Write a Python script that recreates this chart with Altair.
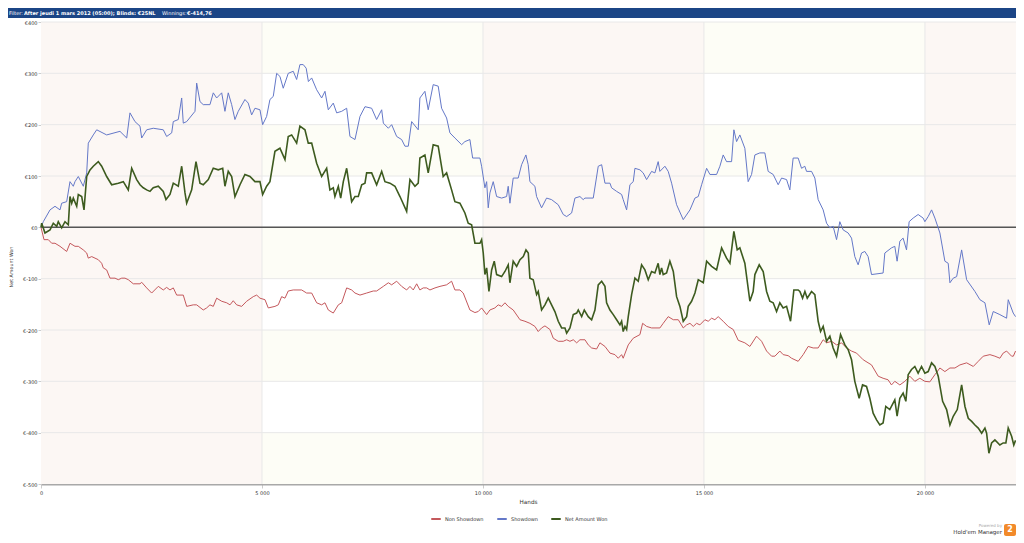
import altair as alt
import pandas as pd

# ---------------- data ----------------
sd_hands = [0, 52, 204, 317, 430, 468, 581, 656, 731, 769, 844, 957, 1034, 1070, 1183, 1260, 1486, 1787, 1939, 2013,
            2126, 2240, 2278, 2391, 2540, 2767, 2843, 2957, 2993, 3106, 3183, 3219, 3296, 3484, 3522, 3597, 3671, 3823,
            3898, 3974, 4088, 4162, 4237, 4314, 4388, 4463, 4614, 4689, 4766, 4841, 4954, 5015, 5105, 5180, 5255, 5332,
            5406, 5481, 5594, 5707, 5784, 5858, 5933, 6000, 6050, 6124, 6237, 6350, 6425, 6500, 6613, 6690, 6803, 6916,
            6990, 7104, 7217, 7330, 7481, 7594, 7708, 7746, 7859, 7934, 8047, 8160, 8235, 8310, 8386, 8535, 8573, 8686,
            8761, 8874, 8987, 9064, 9177, 9252, 9365, 9517, 9591, 9704, 9766, 9931, 9969, 10044, 10083, 10119, 10157,
            10232, 10309, 10422, 10535, 10571, 10610, 10684, 10797, 10874, 10971, 11023, 11062, 11175, 11213, 11326,
            11439, 11552, 11703, 11816, 11893, 12006, 12081, 12194, 12268, 12307, 12495, 12608, 12685, 12760, 12873,
            12910, 13024, 13137, 13173, 13250, 13325, 13400, 13438, 13551, 13625, 13702, 13815, 13890, 13964, 14003,
            14116, 14191, 14268, 14381, 14531, 14683, 14796, 14871, 14947, 15060, 15135, 15286, 15360, 15435, 15511,
            15625, 15677, 15738, 15812, 15925, 16000, 16077, 16152, 16265, 16378, 16453, 16566, 16679, 16756, 16869,
            16943, 17018, 17131, 17208, 17282, 17321, 17434, 17509, 17584, 17697, 17774, 17849, 17923, 18000, 18074,
            18149, 18262, 18339, 18413, 18488, 18565, 18640, 18714, 18791, 19053, 19092, 19243, 19318, 19370, 19432,
            19506, 19583, 19642, 19733, 19846, 19959, 19998, 20073, 20150, 20225, 20338, 20451, 20526, 20565, 20640,
            20717, 20830, 20943, 21131, 21244, 21357, 21454, 21545, 21695, 21847, 21884, 21997, 22050]
sd_vals = [0, 11, 34, 41, 34, 47, 50, 89, 80, 89, 99, 80, 106, 164, 180, 190, 180, 187, 174, 223,
           206, 197, 174, 190, 193, 190, 177, 184, 206, 210, 252, 203, 206, 226, 281, 245, 239, 239,
           262, 252, 262, 226, 262, 239, 210, 226, 249, 242, 219, 232, 229, 200, 216, 249, 255, 300,
           294, 271, 300, 304, 288, 317, 317, 310, 284, 291, 268, 252, 265, 229, 242, 223, 226, 232,
           177, 171, 216, 235, 232, 210, 229, 203, 193, 200, 177, 171, 158, 158, 206, 190, 252, 265,
           229, 278, 275, 232, 213, 184, 174, 161, 167, 171, 135, 135, 119, 77, 89, 38, 67,
           89, 60, 57, 60, 80, 47, 96, 96, 122, 141, 122, 89, 80, 60, 38,
           57, 54, 44, 25, 21, 28, 57, 60, 54, 57, 57, 119, 122, 86, 86,
           77, 70, 64, 54, 34, 83, 89, 115, 112, 106, 93, 109, 106, 128, 109,
           119, 109, 86, 44, 15, 34, 57, 60, 83, 115, 103, 103, 119, 141, 128,
           128, 190, 167, 180, 154, 89, 103, 141, 145, 145, 109, 103, 83, 96, 93,
           73, 135, 135, 115, 119, 109, 109, 96, 54, 34, 8, -1, 2, -24, 11,
           -5, -11, -21, -57, -73, -50, -47, -57, -92, -89, -50, -40, -37, -66, -27,
           -21, -44, 11, 18, 25, 18, 11, 21, 34, 18, -11, -66, -70, -108, -99,
           -96, -44, -102, -125, -141, -147, -190, -164, -170, -177, -141, -167, -174]

nsd_hands = [0, 68, 165, 242, 317, 430, 581, 656, 769, 844, 957, 1034, 1070, 1147, 1296, 1373, 1409, 1486, 1561, 1674,
             1749, 1826, 1900, 1975, 2088, 2240, 2278, 2391, 2504, 2654, 2767, 2843, 2918, 2993, 3070, 3219, 3296,
             3445, 3522, 3671, 3748, 3823, 3898, 3974, 4088, 4201, 4276, 4350, 4427, 4540, 4653, 4803, 4880, 4954,
             5068, 5142, 5293, 5368, 5445, 5520, 5594, 5707, 5897, 6010, 6124, 6237, 6350, 6425, 6500, 6613, 6727,
             6803, 6916, 7029, 7104, 7217, 7368, 7518, 7594, 7746, 7859, 7934, 8047, 8160, 8273, 8348, 8423, 8500,
             8573, 8648, 8726, 8800, 8914, 9027, 9177, 9290, 9365, 9478, 9553, 9704, 9818, 9893, 9969, 10083, 10157,
             10270, 10345, 10422, 10497, 10571, 10684, 10837, 10950, 11062, 11175, 11250, 11326, 11402, 11515, 11590,
             11703, 11816, 11893, 11968, 12043, 12120, 12194, 12307, 12382, 12458, 12571, 12646, 12760, 12873, 12986,
             13061, 13137, 13173, 13287, 13400, 13551, 13612, 13702, 13815, 14003, 14078, 14191, 14306, 14419, 14531,
             14608, 14683, 14758, 14833, 14908, 15021, 15096, 15173, 15247, 15322, 15435, 15548, 15662, 15775, 15925,
             16039, 16190, 16304, 16417, 16530, 16605, 16717, 16792, 16905, 16982, 17131, 17245, 17358, 17471, 17584,
             17697, 17774, 17887, 18000, 18113, 18226, 18339, 18452, 18603, 18791, 18942, 19053, 19166, 19243, 19318,
             19432, 19545, 19658, 19771, 19884, 19998, 20111, 20225, 20338, 20451, 20565, 20678, 20791, 20943, 21094,
             21206, 21319, 21470, 21583, 21695, 21770, 21847, 21961, 22000, 22050]
nsd_vals = [0, -24, -24, -31, -31, -37, -47, -31, -37, -37, -44, -50, -60, -57, -63, -70, -79, -83, -99, -99,
            -102, -99, -99, -102, -110, -110, -107, -118, -128, -115, -122, -117, -122, -118, -132, -132, -154,
            -151, -151, -161, -157, -151, -154, -138, -144, -147, -151, -143, -151, -154, -144, -135, -132, -138,
            -141, -157, -154, -151, -135, -138, -124, -122, -122, -128, -128, -147, -151, -147, -161, -167, -151,
            -147, -118, -122, -128, -132, -128, -124, -124, -115, -108, -112, -105, -115, -122, -115, -122, -110,
            -122, -118, -118, -122, -118, -115, -112, -105, -122, -122, -128, -161, -166, -164, -157, -170, -161,
            -157, -151, -154, -147, -154, -161, -180, -183, -187, -193, -203, -196, -192, -199, -216,
            -222, -222, -219, -222, -219, -225, -219, -219, -229, -235, -237, -225, -232, -245, -248,
            -255, -248, -255, -229, -216, -209, -187, -193, -196, -196, -187, -174, -180, -180, -196,
            -190, -187, -193, -187, -190, -180, -183, -177, -180, -174, -183, -193, -199, -220, -225,
            -232, -212, -222, -241, -251, -251, -241, -248, -250, -255, -261, -248, -232, -235, -235,
            -219, -225, -222, -229, -225, -235, -241, -245, -258, -268, -290, -294, -297, -307, -300,
            -307, -300, -290, -300, -294, -300, -301, -287, -274, -281, -274, -274, -268, -264, -271,
            -261, -251, -248, -251, -255, -245, -241, -251, -251, -241]

net_hands = [0, 16, 90, 204, 278, 355, 391, 468, 543, 618, 656, 695, 731, 808, 844, 921, 973, 1034, 1109, 1183,
             1296, 1373, 1486, 1599, 1749, 1862, 1975, 2052, 2165, 2240, 2314, 2391, 2466, 2540, 2654, 2767, 2828,
             2918, 2993, 3106, 3183, 3258, 3296, 3409, 3507, 3597, 3671, 3785, 3898, 4011, 4111, 4162, 4237, 4314,
             4388, 4502, 4614, 4728, 4841, 4954, 5015, 5105, 5180, 5293, 5406, 5520, 5594, 5671, 5784, 5858, 5972,
             6047, 6124, 6237, 6350, 6463, 6537, 6613, 6650, 6727, 6781, 6840, 6916, 7029, 7104, 7179, 7256, 7330,
             7368, 7481, 7594, 7708, 7782, 7895, 8009, 8122, 8273, 8348, 8461, 8535, 8573, 8686, 8761, 8874, 8987,
             9100, 9177, 9290, 9365, 9478, 9591, 9666, 9743, 9818, 9931, 9969, 10006, 10044, 10083, 10135, 10196,
             10255, 10309, 10422, 10497, 10571, 10610, 10684, 10762, 10837, 10912, 10973, 11025, 11062, 11137, 11213,
             11250, 11326, 11402, 11477, 11552, 11627, 11703, 11780, 11855, 11893, 11968, 12043, 12120, 12156, 12233,
             12292, 12382, 12458, 12533, 12608, 12685, 12760, 12797, 12873, 12948, 13024, 13099, 13137, 13173, 13212,
             13250, 13287, 13363, 13438, 13513, 13589, 13664, 13739, 13815, 13890, 13964, 14003, 14041, 14078, 14154,
             14229, 14306, 14381, 14456, 14531, 14608, 14644, 14720, 14796, 14871, 14984, 15060, 15173, 15286, 15399,
             15511, 15587, 15677, 15752, 15812, 15925, 16039, 16113, 16152, 16250, 16340, 16417, 16491, 16566, 16643,
             16717, 16792, 16869, 16959, 17034, 17131, 17170, 17231, 17284, 17337, 17434, 17509, 17584, 17638, 17697,
             17774, 17849, 17923, 18000, 18090, 18188, 18262, 18339, 18413, 18511, 18588, 18678, 18753, 18828, 18905,
             18979, 19053, 19114, 19204, 19318, 19370, 19432, 19506, 19568, 19620, 19696, 19771, 19846, 19923, 19998,
             20073, 20150, 20225, 20300, 20400, 20490, 20565, 20640, 20731, 20830, 20905, 20980, 21057, 21131, 21206,
             21283, 21357, 21395, 21447, 21508, 21583, 21695, 21770, 21831, 21884, 21961, 22010, 22050]
net_vals = [0, 8, -11, -5, 8, 2, 11, -1, 11, 5, 60, 47, 57, 41, 64, 60, 34, 99, 112, 119,
            128, 119, 99, 83, 86, 89, 73, 115, 93, 83, 77, 73, 70, 77, 80, 70, 54,
            64, 86, 80, 119, 67, 47, 73, 128, 86, 83, 93, 115, 112, 115, 80, 109, 99,
            60, 83, 103, 99, 89, 89, 64, 80, 89, 148, 154, 132, 177, 180, 164, 197, 190,
            164, 164, 125, 99, 115, 73, 77, 60, 80, 57, 89, 115, 50, 60, 60, 83, 86,
            106, 106, 83, 109, 89, 86, 80, 60, 31, 93, 80, 86, 135, 141, 106, 161, 158,
            99, 106, 73, 50, 47, 28, 8, 5, -31, -31, -24, -50, -92, -79, -125, -83,
            -66, -92, -96, -86, -73, -108, -66, -76, -63, -57, -44, -50, -99, -102, -131,
            -125, -161, -151, -138, -151, -164, -183, -196, -196, -206, -196, -170, -167, -161, -174,
            -161, -174, -180, -161, -112, -105, -115, -147, -161, -170, -180, -190, -183, -203, -193,
            -199, -174, -131, -99, -105, -73, -83, -102, -86, -89, -70, -92, -79, -92, -89,
            -66, -86, -135, -154, -183, -174, -154, -144, -128, -102, -108, -66, -76, -83, -40,
            -60, -70, -8, -44, -40, -70, -144, -125, -92, -73, -86, -125, -144, -147, -164,
            -147, -157, -154, -183, -122, -122, -125, -138, -125, -138, -125, -131, -183, -203, -193,
            -222, -212, -235, -251, -209, -229, -238, -258, -300, -333, -307, -310, -333, -362, -375,
            -385, -381, -349, -355, -336, -368, -333, -323, -339, -287, -277, -271, -284, -271, -284,
            -281, -264, -271, -290, -339, -355, -385, -368, -355, -307, -349, -372, -378, -385, -391,
            -401, -391, -401, -440, -420, -414, -424, -420, -420, -391, -407, -424, -415]

series_names = ["Non Showdown", "Showdown", "Net Amount Won"]
series_colors = ["#c4585c", "#6478c8", "#3d5b1f"]

x_ticks = [0, 5000, 10000, 15000, 20000]
x_max = 22060
y_ticks = [-500, -400, -300, -200, -100, 0, 100, 200, 300, 400]
band_edges = [0, 5000, 10000, 15000, 20000, x_max]

header_parts = ["Filter:", "After jeudi 1 mars 2012 (05:00); Blinds: €25NL", "Winnings:", "€-414,76"]

# ---------------- frames ----------------
def series_df(name, hands, vals):
    return pd.DataFrame({"hands": hands, "value": vals, "series": name})

nsd_df = series_df(series_names[0], nsd_hands, nsd_vals)
sd_df = series_df(series_names[1], sd_hands, sd_vals)
net_df = series_df(series_names[2], net_hands, net_vals)

cells = []
for i in range(len(band_edges) - 1):
    for j in range(len(y_ticks) - 1):
        y0 = y_ticks[j]
        if i % 2 == 0:
            kind = "rose"
        elif (y0 // 100) % 2 != 0:
            kind = "cream"
        else:
            kind = "white"
        cells.append({"x0": band_edges[i], "x1": band_edges[i + 1], "y0": y0, "y1": y_ticks[j + 1], "kind": kind})
cells_df = pd.DataFrame(cells)

W, H = 975, 462
FONT = "DejaVu Sans"

xs = alt.Scale(domain=[0, x_max], nice=False, zero=False)
ys = alt.Scale(domain=[-500, 400], nice=False, zero=False)

xaxis = alt.Axis(values=x_ticks, labelExpr="replace(format(datum.value, ','), ',', ' ')", title=None, grid=False,
                 tickSize=4, tickColor="#cccccc", labelFontSize=5, labelFont=FONT, labelColor="#333333",
                 labelPadding=2, labelFlush=False, domainColor="#a8a8a8", domainWidth=2)
yaxis = alt.Axis(values=y_ticks, labelExpr="'€' + datum.value", title=None, grid=False,
                 tickSize=3, tickColor="#cccccc", labelFontSize=5, labelFont=FONT, labelColor="#333333",
                 labelPadding=1, domainColor="#c8c8c8", domainWidth=1)

def X(field):
    return alt.X(field, type="quantitative", scale=xs, axis=xaxis)

def Y(field):
    return alt.Y(field, type="quantitative", scale=ys, axis=yaxis)

bg = alt.Chart(cells_df).mark_rect(strokeWidth=0).encode(
    x=X("x0"), x2="x1", y=Y("y0"), y2="y1",
    fill=alt.Fill("kind:N", scale=alt.Scale(domain=["rose", "cream", "white"],
                                             range=["#fcf7f4", "#fdfdf6", "#ffffff"]), legend=None),
)

vgrid = alt.Chart(pd.DataFrame({"x": x_ticks[1:]})).mark_rule(color="#e8e8e8", strokeWidth=1).encode(x=X("x"))
hgrid = alt.Chart(pd.DataFrame({"y": y_ticks[1:]})).mark_rule(color="#e8e8e8", strokeWidth=1).encode(y=Y("y"))
zero = alt.Chart(pd.DataFrame({"y": [0]})).mark_rule(color="#555555", strokeWidth=1.5).encode(y=Y("y"))

color = alt.Color("series:N", scale=alt.Scale(domain=series_names, range=series_colors),
                  legend=alt.Legend(title=None, orient="none", legendX=389, legendY=491, direction="horizontal",
                                    symbolType="stroke", symbolSize=90, symbolStrokeWidth=2,
                                    labelFontSize=5, labelFont=FONT, labelColor="#333333",
                                    columnPadding=9, labelOffset=3))

def line(df, width):
    return alt.Chart(df).mark_line(strokeWidth=width).encode(
        x=X("hands"), y=Y("value"), color=color, order=alt.Order("hands:Q"))

red_line = line(nsd_df, 1)
blue_line = line(sd_df, 1)
green_line = line(net_df, 1.6)

def txt(s, x, y, size, weight="normal", col="#333333", align="left", angle=0, font=FONT):
    return alt.Chart(pd.DataFrame({"t": [s]})).mark_text(
        align=align, baseline="middle", fontSize=size, fontWeight=weight, color=col, angle=angle, font=font
    ).encode(x=alt.value(x), y=alt.value(y), text="t:N")

header_bar = alt.Chart(pd.DataFrame({"a": [1]})).mark_rect(color="#1b4586").encode(
    x=alt.value(-33), x2=alt.value(W), y=alt.value(-14), y2=alt.value(-4))

header = [
    txt(header_parts[0], -32, -9, 5, col="#ffffff"),
    txt(header_parts[1], -17, -9, 5, weight="bold", col="#ffffff"),
    txt(header_parts[2], 121, -9, 5, col="#ffffff"),
    txt(header_parts[3], 146, -9, 5, weight="bold", col="#ffffff"),
]

x_title = txt("Hands", W / 2, 480, 5.7, align="center")
y_title = txt("Net Amount Won", -29, 245, 4.8, align="center", angle=270)

logo_box = alt.Chart(pd.DataFrame({"a": [1]})).mark_rect(color="#f28a2a", cornerRadius=2).encode(
    x=alt.value(963), x2=alt.value(975), y=alt.value(502), y2=alt.value(514))
logo = [
    txt("Powered by", 961, 504, 4, col="#aaaaaa", align="right"),
    txt("Hold'em Manager", 961, 510, 5.5, col="#333333", align="right"),
    logo_box,
    txt("2", 969, 508, 8, weight="bold", col="#ffffff", align="center"),
]

chart = alt.layer(
    bg, vgrid, hgrid, zero, red_line, blue_line, green_line,
    header_bar, *header, x_title, y_title, *logo
).properties(
    width=W, height=H,
    autosize=alt.AutoSizeParams(type="none"),
    padding={"left": 33, "top": 14, "right": 0, "bottom": 52},
).configure_view(stroke="#cfcfcf", strokeWidth=1).configure(background="#ffffff")

chart.save("out.html", embed_options={"renderer": "svg", "actions": False})
